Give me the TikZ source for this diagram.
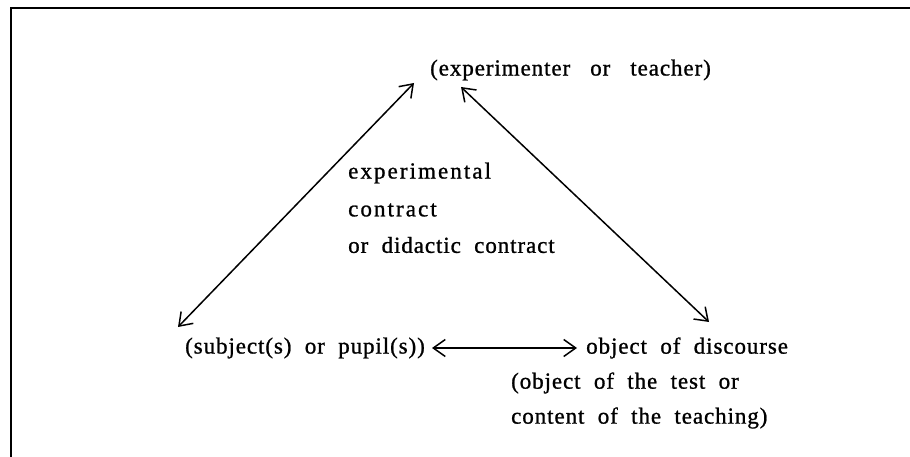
\documentclass[tikz,border=0pt]{standalone}
\usepackage{fontspec}
\setmainfont{Liberation Serif}[WordSpace=2.0,LetterSpace=4,FakeBold=1]
\usetikzlibrary{arrows.meta}

\tikzset{
  lbl/.style={inner sep=0pt,anchor=west,font=\fontsize{23}{23}\selectfont},
  link/.style={line width=1.5pt,{Straight Barb[length=12pt,width=17pt,line width=1.5pt]}-{Straight Barb[length=12pt,width=17pt,line width=1.5pt]}}
}

\begin{document}
\begin{tikzpicture}[x=1pt,y=-1pt]
  \useasboundingbox (0,0) rectangle (910,457);
  % frame (scan cut off on the right and below)
  \draw[line width=2.5pt] (11,457) -- (11,8) -- (910,8);

  \node[lbl] (teacher) at (430,70) {\spaceskip=20pt (experimenter or teacher)};
  \node[lbl] (subject) at (185,348) {(subject(s) or pupil(s))};
  \node[lbl] (object) at (586,348) {object of discourse};

  \foreach \n/\y/\t in {c1/173/experimental, c2/210/contract}
  {
    \node[lbl] (\n) at (348,\y) {\addfontfeature{LetterSpace=9}\t};
  }
  \node[lbl] (c3) at (348,245) {or didactic contract};
  \foreach \n/\y/\t in {o1/383/(object of the test or, o2/418/content of the teaching)}
  {
    \node[lbl] (\n) at (511,\y) {\t};
  }

  \draw[link] ([shift={(-16pt,-13pt)}]teacher.west) -- ([shift={(-7pt,21pt)}]subject.west);
  \draw[link] ([shift={(31pt,-17pt)}]teacher.west) -- ([shift={(123pt,26pt)}]object.west);
  \draw[link] ([xshift=7pt]subject.east) -- ([xshift=-9pt]object.west);
\end{tikzpicture}
\end{document}
